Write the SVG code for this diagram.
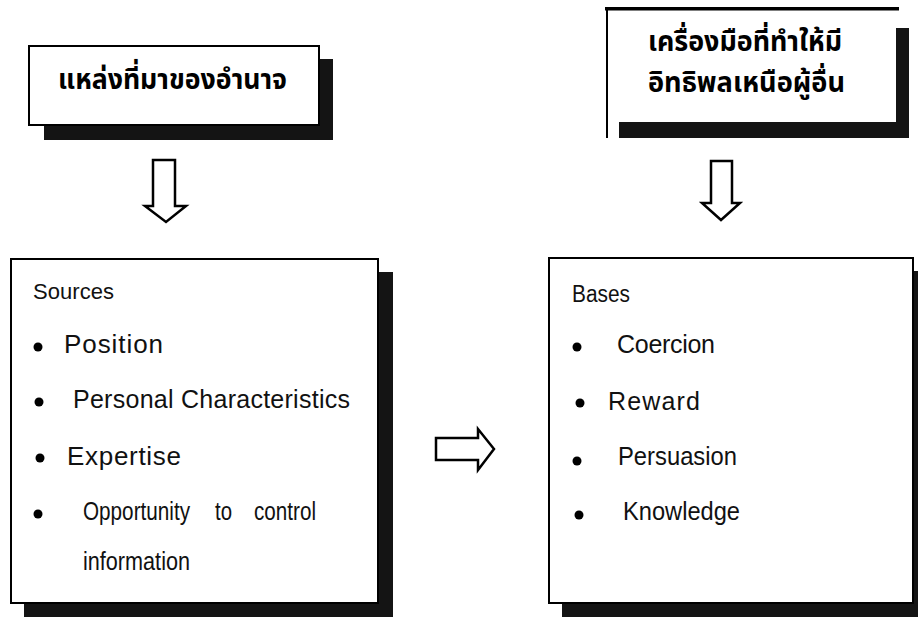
<svg xmlns="http://www.w3.org/2000/svg" width="918" height="617" viewBox="0 0 918 617">
<style>
.bg{fill:#ffffff}
.box{fill:#ffffff;stroke:#000;stroke-width:2}
.shadow{fill:#141414}
.th{font-family:"Noto Sans Thai","Noto Sans","DejaVu Sans",sans-serif;font-weight:bold;fill:#000}
.t{font-family:"Liberation Sans",Arial,sans-serif;fill:#111}
.dot{fill:#000}
.arrow{fill:#fff;stroke:#000;stroke-width:2.5;stroke-linejoin:miter}
</style>
<rect class="bg" x="0" y="0" width="918" height="617"/>

<g id="node-source-title">
  <rect class="shadow" x="319" y="59" width="14" height="81"/>
  <rect class="shadow" x="44" y="125" width="289" height="15"/>
  <rect class="box" x="29" y="46" width="290" height="79"/>
  <text class="th" x="58" y="89" font-size="29" textLength="229" lengthAdjust="spacingAndGlyphs">แหล่งที่มาของอำนาจ</text>
</g>

<g id="node-tool-title">
  <rect fill="#000" x="605" y="7" width="294" height="3.5"/>
  <rect fill="#000" x="606" y="10" width="2" height="128"/>
  <rect class="shadow" x="896" y="28" width="13" height="110"/>
  <rect class="shadow" x="619" y="122" width="290" height="16"/>
  <text class="th" x="648" y="51" font-size="28" textLength="194" lengthAdjust="spacingAndGlyphs">เครื่องมือที่ทำให้มี</text>
  <text class="th" x="648" y="92" font-size="28" textLength="197" lengthAdjust="spacingAndGlyphs">อิทธิพลเหนือผู้อื่น</text>
</g>

<g id="node-sources">
  <rect class="shadow" x="378" y="272" width="15" height="345"/>
  <rect class="shadow" x="24" y="603" width="369" height="14"/>
  <rect class="box" x="11" y="259" width="367" height="344"/>
  <text class="t" x="33" y="299" font-size="22" textLength="81">Sources</text>
  <circle class="dot" cx="38" cy="347" r="4.5"/>
  <text class="t" x="64" y="353" font-size="26" textLength="99">Position</text>
  <circle class="dot" cx="39" cy="402" r="4.5"/>
  <text class="t" x="73" y="408" font-size="25" textLength="277">Personal  Characteristics</text>
  <circle class="dot" cx="40" cy="458" r="4.5"/>
  <text class="t" x="67" y="465" font-size="26" textLength="114">Expertise</text>
  <circle class="dot" cx="38" cy="514" r="4.5"/>
  <text class="t" x="83" y="520" font-size="25" textLength="107" lengthAdjust="spacingAndGlyphs">Opportunity</text>
  <text class="t" x="215" y="520" font-size="25" textLength="17" lengthAdjust="spacingAndGlyphs">to</text>
  <text class="t" x="254" y="520" font-size="25" textLength="62" lengthAdjust="spacingAndGlyphs">control</text>
  <text class="t" x="83" y="570" font-size="25" textLength="107" lengthAdjust="spacingAndGlyphs">information</text>
</g>

<g id="node-bases">
  <rect class="shadow" x="913" y="271" width="15" height="346"/>
  <rect class="shadow" x="562" y="603" width="366" height="14"/>
  <rect class="box" x="549" y="258" width="364" height="345" stroke-width="3"/>
  <text class="t" x="572" y="302" font-size="23" textLength="58" lengthAdjust="spacingAndGlyphs">Bases</text>
  <circle class="dot" cx="577" cy="347" r="4.5"/>
  <text class="t" x="617" y="353" font-size="25" textLength="98">Coercion</text>
  <circle class="dot" cx="580" cy="403" r="4.5"/>
  <text class="t" x="608" y="410" font-size="25" textLength="92">Reward</text>
  <circle class="dot" cx="577" cy="461" r="4.5"/>
  <text class="t" x="618" y="465" font-size="25" textLength="119" lengthAdjust="spacingAndGlyphs">Persuasion</text>
  <circle class="dot" cx="579" cy="515" r="4.5"/>
  <text class="t" x="623" y="520" font-size="25" textLength="117" lengthAdjust="spacingAndGlyphs">Knowledge</text>
</g>

<g id="connectors">
  <path class="arrow" d="M153,160 H175 V206 H186 L166,222 L145,206 H153 Z"/>
  <path class="arrow" d="M711,161 H732 V203 H740 L721,220 L702,203 H711 Z"/>
  <path class="arrow" d="M436,438 H478 V429 L494,449 L478,470 V460 H436 Z"/>
</g>
</svg>
